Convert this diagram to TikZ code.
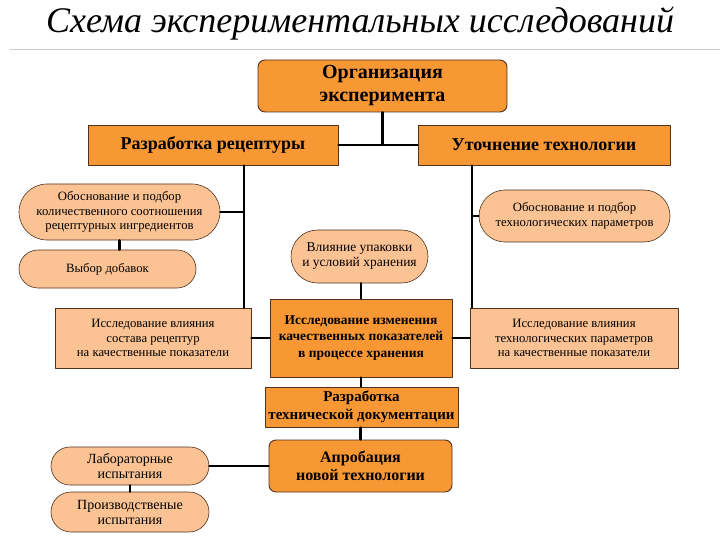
\documentclass[tikz,border=0pt]{standalone}
\usepackage{fontspec}
\setmainfont{Liberation Serif}
\usepackage{tikz}
\usetikzlibrary{positioning, shapes.misc, calc}
\definecolor{SchOrange}{RGB}{248, 152, 52}
\definecolor{SchLight}{RGB}{251, 195, 148}
\definecolor{SchEdge}{RGB}{80, 50, 30}
\tikzset{
    every path/.style={line cap=round, line join=round},
    mainbox/.style={draw=SchEdge, line width=0.9pt, fill=SchOrange, align=center,
        font=\fontsize{18}{21}\selectfont\bfseries, inner sep=2pt},
    subbox/.style={draw=SchEdge, line width=0.6pt, fill=SchLight, align=center,
        font=\fontsize{12.7}{14.5}\selectfont, inner sep=2pt},
    stadium/.style={subbox, rounded rectangle, rounded rectangle arc length=180},
    link/.style={line width=2.2pt, black}
}

\begin{document}
\begin{tikzpicture}[x=1pt, y=-1pt]
    \useasboundingbox (0,0) rectangle (720,540);
    % title
    \node (title) at (360,24) {\fontsize{36}{40}\selectfont\itshape Схема экспериментальных исследований};
    \draw [black!20, line width=1pt] (10,50) -- (720,50);

    % top level
    \node [mainbox, rounded corners=7pt, minimum width=249pt, minimum height=52pt,
        font=\fontsize{20}{23}\selectfont\bfseries] (org) at (382.5,86)
        {Организация\\эксперимента};
    \node [mainbox, minimum width=250pt, minimum height=40pt] (recept) at (213,145)
        {Разработка рецептуры};
    \node [mainbox, minimum width=252pt, minimum height=40pt] (tehn) at (544,145)
        {Уточнение технологии};

    % left branch
    \node [stadium, minimum width=205pt, minimum height=56pt] (obosn) at (119.5,212)
        {Обоснование и подбор\\количественного соотношения\\рецептурных ингредиентов};
    \node [stadium, minimum width=181pt, minimum height=38pt] (dobav) at (107.5,269)
        {Выбор добавок};
    \node [subbox, minimum width=196pt, minimum height=60pt] (sostav) at (153,338)
        {Исследование влияния\\состава рецептур\\на качественные показатели};

    % right branch
    \node [stadium, minimum width=195pt, minimum height=52pt] (tparam) at (574.5,216)
        {Обоснование и подбор\\технологических параметров};
    \node [subbox, minimum width=208pt, minimum height=60pt] (vlparam) at (574,338)
        {Исследование влияния\\технологических параметров\\на качественные показатели};

    % centre column
    \node [stadium, minimum width=141pt, minimum height=53pt, font=\fontsize{13.5}{15}\selectfont]
        (upak) at (359.5,256.5) {Влияние упаковки\\и условий хранения};
    \node [mainbox, minimum width=182pt, minimum height=78pt,
        font=\fontsize{13.5}{16.5}\selectfont\bfseries] (hranen) at (361,338)
        {Исследование изменения\\качественных показателей\\в процессе хранения};
    \node [mainbox, minimum width=193pt, minimum height=40pt,
        font=\fontsize{15}{18}\selectfont\bfseries] (tdoc) at (361.5,407)
        {Разработка\\технической документации};
    \node [mainbox, rounded corners=7pt, minimum width=183pt, minimum height=52pt,
        font=\fontsize{16}{18}\selectfont\bfseries] (aprob) at (360.5,466)
        {Апробация\\новой технологии};

    % trials
    \node [stadium, minimum width=162pt, minimum height=38pt, font=\fontsize{14}{15}\selectfont]
        (lab) at (130,466) {Лабораторные\\испытания};
    \node [stadium, minimum width=162pt, minimum height=40pt, font=\fontsize{14}{15}\selectfont]
        (proizv) at (130,512) {Производственые\\испытания};

    % buses
    \coordinate (lbus) at (244,0);
    \coordinate (rbus) at (472,0);

    % connectors
    \draw [link] (org.south) |- (recept.east);
    \draw [link] (org.south) |- (tehn.west);
    \draw [link] (recept.south -| lbus) -- (sostav.north -| lbus);
    \draw [link] (obosn.east) -- (obosn.east -| lbus);
    \draw [link] (obosn.south) -- (obosn.south |- dobav.north);
    \draw [link] (tehn.south -| rbus) -- (vlparam.north -| rbus);
    \draw [link] (tparam.west) -- (tparam.west -| rbus);
    \draw [link] (sostav.east) -- (hranen.west);
    \draw [link] (hranen.east) -- (vlparam.west);
    \draw [link] (upak.south -| hranen.north) -- (hranen.north);
    \draw [link] (hranen.south) -- (tdoc.north -| hranen.south);
    \draw [link] (tdoc.south -| aprob.north) -- (aprob.north);
    \draw [link] (aprob.west) -- (lab.east);
    \draw [link] (lab.south) -- (proizv.north);
\end{tikzpicture}
\end{document}
